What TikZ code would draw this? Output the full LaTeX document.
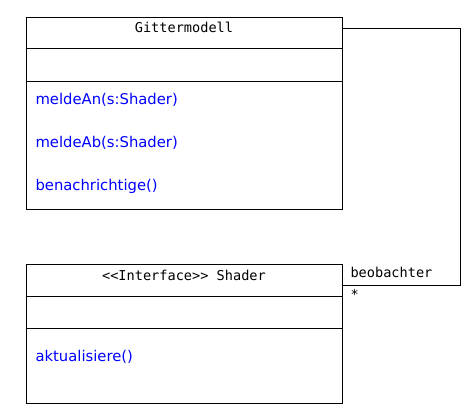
\documentclass[tikz,border=0pt]{standalone}
\usepackage{fontspec}
\setmonofont{DejaVu Sans Mono}
\newfontfamily\methodenfont{DejaVu Sans}
\usetikzlibrary{calc}
\usetikzlibrary{positioning}

\begin{document}
\begin{tikzpicture}[x=1pt, y=-1pt, line width=1pt,
    klasse/.style={draw, inner sep=0pt, anchor=north west, minimum width=316pt},
    kopf/.style={font=\ttfamily\fontsize{13.6}{16}\selectfont, inner sep=0pt},
    methode/.style={font=\methodenfont\fontsize{14.8}{17}\selectfont, text=blue, anchor=west, inner sep=0pt}]

      \useasboundingbox (0,0) rectangle (468,413);

      % Gittermodell
      \node [klasse, minimum height=192pt] (gitter) at (26,17) {};
      \draw (26,48) -- (342,48);
      \draw (26,81) -- (342,81);
      \node [kopf] (gitterName) at (184,27) {Gittermodell};
      \node [methode] (meldeAn) at (35,100) {meldeAn(s:Shader)};
      \node [methode] (meldeAb) at (35,143) {meldeAb(s:Shader)};
      \node [methode] (benachr) at (35,186) {benachrichtige()};

      % Shader
      \node [klasse, minimum height=139pt] (shader) at (26,264) {};
      \draw (26,296) -- (342,296);
      \draw (26,328) -- (342,328);
      \node [kopf] (shaderName) at (184,275) {<<Interface>> Shader};
      \node [methode] (aktual) at (35,357) {aktualisiere()};

      % Assoziation
      \coordinate (knickOben) at (460,28);
      \coordinate (knickUnten) at (460,285);
      \draw (gitter.east |- knickOben) -- (knickOben) -- (knickUnten) -- (shader.east |- knickUnten);
      \node [kopf, anchor=west] (rolle) at (350,272) {beobachter};
      \node [kopf, anchor=west] (multi) at (350,294) {*};

    \end{tikzpicture}
\end{document}
